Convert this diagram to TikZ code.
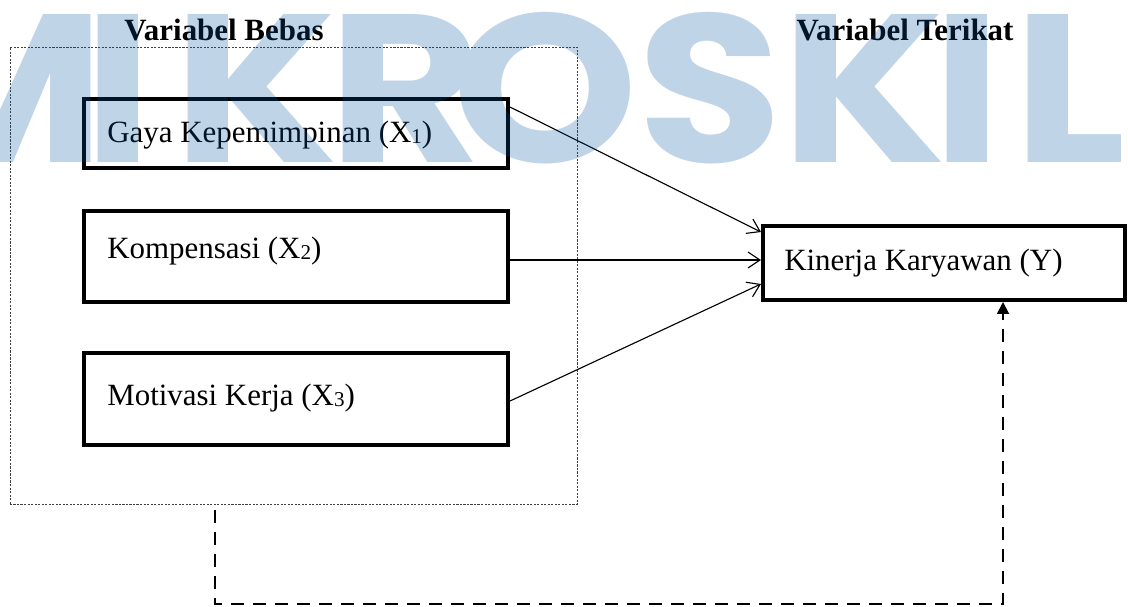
\documentclass[tikz,border=0pt]{standalone}
\usepackage{fontspec}
\setmainfont{Liberation Serif}
\newfontfamily\wmfont{Poppins}
\usetikzlibrary{arrows.meta,calc}
\definecolor{wmblue}{RGB}{4,84,164}
\newcommand\subdigit[1]{\raisebox{-0.06em}{\fontsize{15}{15}\selectfont #1}}
\newcommand\wmglyph[1]{\scalebox{1.12}[1]{#1}}
\tikzset{
  varbox/.style={draw, line width=2.8pt, rectangle, inner sep=0pt, minimum width=10.6cm},
  varlabel/.style={anchor=base west, inner sep=0pt, font=\fontsize{22}{26}\selectfont},
  titlelabel/.style={anchor=base, inner sep=0pt, font=\fontsize{22}{26}\selectfont\bfseries},
  groupbox/.style={draw=black!75, line width=0.6pt, dash pattern=on 1.5pt off 1pt, rectangle, inner sep=0pt},
  effect/.style={line width=0.8pt, -{Straight Barb[length=0.3cm,width=0.4cm]}},
  joint/.style={line width=1.3pt, dash pattern=on 0.325cm off 0.225cm, -{Triangle[length=0.3cm,width=0.3cm]}},
  wmletter/.style={anchor=base, inner sep=0pt, text=wmblue, font=\wmfont\bfseries\fontsize{150}{150}\selectfont}
}
\begin{document}
\begin{tikzpicture}[x=0.025cm,y=-0.025cm]
\useasboundingbox (0,0) rectangle (1128,606);
% group box
\node[groupbox, minimum width=14.175cm, minimum height=11.425cm] (grp) at (293.5,275.5) {};
% titles
\node[titlelabel] (tb) at (224,40) {Variabel Bebas};
\node[titlelabel] (tt) at (905,40) {Variabel Terikat};
% independent variable boxes
\node[varbox, minimum height=1.725cm] (b1) at (296,133.5) {};
\node[varbox, minimum height=2.275cm] (b2) at (296,256.5) {};
\node[varbox, minimum height=2.3cm] (b3) at (296,399) {};
\node[varlabel] (t1) at (107,142) {Gaya Kepemimpinan (X\subdigit{1})};
\node[varlabel] (t2) at (107,258) {Kompensasi (X\subdigit{2})};
\node[varlabel] (t3) at (107,405) {Motivasi Kerja (X\subdigit{3})};
% dependent variable box
\node[varbox, minimum width=9.05cm, minimum height=1.85cm] (by) at (944,263) {};
\node[varlabel] (ty) at (784,270) {Kinerja Karyawan (Y)};
% connectors
\draw[effect] ([yshift=-0.25cm]b1.north east) -- ([yshift=-0.2cm]by.north west);
\draw[effect] (b2.east |- 0,260) -- (by.west |- 0,260);
\draw[effect] ([yshift=-0.05cm]b3.east) -- ([yshift=0.45cm]by.south west);
\coordinate (d1) at (215,510);
\coordinate (d2) at (1003,604);
\draw[joint] (d1) |- (d2) -- (d2 |- by.south);
% watermark
\begin{scope}[transparency group, opacity=0.25]
\node[wmletter] (w1) at (-3,162) {\wmglyph{M}};
\node[wmletter] (w2) at (118,162) {\wmglyph{I}};
\node[wmletter] (w3) at (256,162) {\wmglyph{K}};
\node[wmletter] (w4) at (406,162) {\wmglyph{R}};
\node[wmletter] (w5) at (545,162) {\wmglyph{O}};
\node[wmletter] (w6) at (710,162) {\wmglyph{S}};
\node[wmletter] (w7) at (864,162) {\wmglyph{K}};
\node[wmletter] (w8) at (967,162) {\wmglyph{I}};
\node[wmletter] (w9) at (1070,162) {\wmglyph{L}};
\end{scope}
\end{tikzpicture}
\end{document}
